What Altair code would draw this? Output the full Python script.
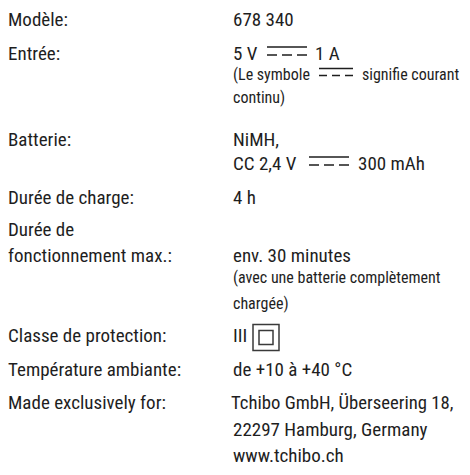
import altair as alt
import pandas as pd

# ---------------- content ----------------
labels = ["Modèle:", "Entrée:", "Batterie:", "Durée de charge:", "Durée de",
          "fonctionnement max.:", "Classe de protection:",
          "Température ambiante:", "Made exclusively for:"]
values = ["678 340", "5 V", "1 A", "NiMH,", "CC 2,4 V", "300 mAh", "4 h",
          "env. 30 minutes", "III", "de +10 à +40 °C",
          "Tchibo GmbH, Überseering 18,", "22297 Hamburg, Germany",
          "www.tchibo.ch"]
notes = ["(Le symbole", "signifie courant", "continu)",
         "(avec une batterie complètement", "chargée)"]

# ---------------- layout (page pixels, text baselines as read) ----------------
OX, OY = 8, 8
W, H = 454, 459
FONT = "Roboto Condensed, Liberation Sans Narrow, DejaVu Sans Condensed, sans-serif"
COLOR = "#1e1e1e"
MAIN, SMALL = 19, 16

label_x = [8] * len(labels)
label_y = [24, 59, 147, 207, 240, 266, 349, 384, 418]
value_x = [233, 233, 315, 233, 233, 358, 233, 233, 233, 233, 231, 233, 233]
value_y = [24, 59, 59, 147, 172, 172, 207, 266, 349, 384, 418, 445, 472]
value_s = [MAIN] * 10 + [18.7, MAIN, MAIN]
note_x = [233, 362, 233, 233, 233]
note_y = [79, 79, 103, 288, 315]

# DC symbol (solid line over dashed line): x-start, x-end, baseline, size
dc_x1 = [267, 309, 319]
dc_x2 = [307, 349, 353]
dc_base = [59, 172, 79]
dc_kind = ["main", "main", "small"]

# protection class III symbol (square in square)
sq_x = [266, 266]
sq_y = [344, 344]
sq_side = [26, 14]


# fit the read layout into the drawable page area (8..467 px)
def fy(y):
    return 26 + (y - 24) * (462 - 26) / (472 - 24) - OY


rows = []
for t, x, y in zip(labels, label_x, label_y):
    rows.append({"text": t, "x": x - OX, "y": fy(y), "size": MAIN})
for t, x, y, s in zip(values, value_x, value_y, value_s):
    rows.append({"text": t, "x": x - OX, "y": fy(y), "size": s})
for t, x, y in zip(notes, note_x, note_y):
    rows.append({"text": t, "x": x - OX, "y": fy(y), "size": SMALL})
text_df = pd.DataFrame(rows)

solid_rows, dash_main, dash_small = [], [], []
for x1, x2, b, k in zip(dc_x1, dc_x2, dc_base, dc_kind):
    top = fy(b) - (13 if k == "main" else 11)
    bot = fy(b) - (5 if k == "main" else 4)
    solid_rows.append({"x": x1 - OX, "x2": x2 - OX, "y": top})
    (dash_main if k == "main" else dash_small).append(
        {"x": x1 - OX, "x2": x2 - OX, "y": bot})

sq_df = pd.DataFrame({"x": [v - OX for v in sq_x],
                      "y": [fy(v) for v in sq_y],
                      "s": [v * v for v in sq_side]})

text = alt.Chart(text_df).mark_text(
    align="left", baseline="alphabetic", font=FONT, color=COLOR
).encode(
    x=alt.X("x:Q", scale=None, axis=None),
    y=alt.Y("y:Q", scale=None, axis=None),
    size=alt.Size("size:Q", scale=None, legend=None),
    text="text:N",
)


def rule(df, dash=None):
    kw = dict(color=COLOR, strokeWidth=1.6)
    if dash:
        kw["strokeDash"] = dash
    return alt.Chart(pd.DataFrame(df)).mark_rule(**kw).encode(
        x=alt.X("x:Q", scale=None, axis=None),
        x2="x2:Q",
        y=alt.Y("y:Q", scale=None, axis=None),
    )


squares = alt.Chart(sq_df).mark_point(
    shape="square", filled=False, color="#3a3a3a", strokeWidth=1.5, opacity=1
).encode(
    x=alt.X("x:Q", scale=None, axis=None),
    y=alt.Y("y:Q", scale=None, axis=None),
    size=alt.Size("s:Q", scale=None, legend=None),
)

chart = alt.layer(
    text,
    rule(solid_rows),
    rule(dash_main, [10, 5]),
    rule(dash_small, [8, 5]),
    squares,
).properties(
    width=W, height=H, padding=0, background="white",
    autosize=alt.AutoSizeParams(type="none")
).configure_view(stroke=None, strokeWidth=0)

chart.save("out.html", embed_options={"renderer": "svg", "actions": False})
